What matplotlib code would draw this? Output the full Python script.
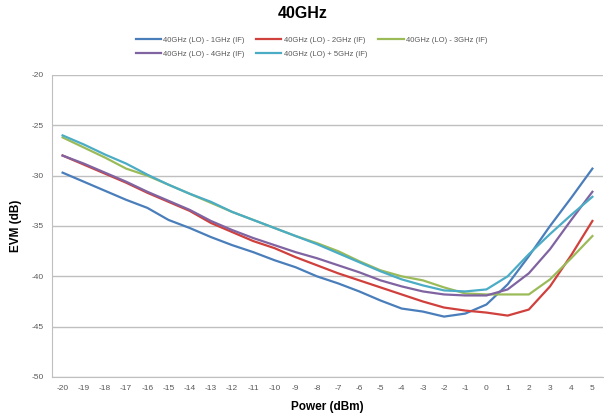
import matplotlib
matplotlib.use("Agg")
import matplotlib.pyplot as plt

power = list(range(-20, 6))

evm_1ghz = [-29.7, -30.6, -31.5, -32.4, -33.2, -34.4, -35.2, -36.1, -36.9, -37.6,
            -38.4, -39.1, -40.0, -40.7, -41.5, -42.4, -43.2, -43.5, -44.0, -43.7,
            -42.8, -40.8, -38.0, -35.0, -32.2, -29.3]
evm_2ghz = [-28.0, -28.9, -29.8, -30.7, -31.7, -32.6, -33.5, -34.7, -35.6, -36.5,
            -37.2, -38.1, -38.9, -39.7, -40.4, -41.1, -41.8, -42.5, -43.1, -43.4,
            -43.6, -43.9, -43.3, -41.0, -37.9, -34.5]
evm_3ghz = [-26.2, -27.2, -28.2, -29.3, -30.0, -30.9, -31.8, -32.7, -33.6, -34.4,
            -35.2, -36.0, -36.7, -37.5, -38.5, -39.4, -40.0, -40.4, -41.1, -41.7,
            -41.8, -41.8, -41.8, -40.3, -38.2, -36.0]
evm_4ghz = [-28.0, -28.8, -29.7, -30.6, -31.6, -32.5, -33.4, -34.5, -35.4, -36.2,
            -36.9, -37.6, -38.2, -38.9, -39.6, -40.4, -41.0, -41.5, -41.8, -41.9,
            -41.9, -41.3, -39.7, -37.3, -34.4, -31.6]
evm_5ghz = [-26.0, -26.9, -27.9, -28.8, -29.9, -30.9, -31.8, -32.6, -33.6, -34.4,
            -35.2, -36.0, -36.8, -37.7, -38.6, -39.5, -40.3, -40.9, -41.4, -41.5,
            -41.3, -40.0, -37.8, -35.8, -33.9, -32.1]

labels = ["40GHz (LO) - 1GHz (IF)", "40GHz (LO) - 2GHz (IF)", "40GHz (LO) - 3GHz (IF)",
          "40GHz (LO) - 4GHz (IF)", "40GHz (LO) + 5GHz (IF)"]
colors = ["#4A7EBB", "#D0403C", "#9BBB59", "#8064A2", "#4BACC6"]
series = [evm_1ghz, evm_2ghz, evm_3ghz, evm_4ghz, evm_5ghz]

yticks = [-50, -45, -40, -35, -30, -25, -20]

plt.rcParams['font.family'] = ['Liberation Sans', 'DejaVu Sans']
plt.rcParams['axes.unicode_minus'] = False

fig = plt.figure(figsize=(6.06, 4.18), dpi=100)
ax = fig.add_axes([52/606, 1-377/418, (603-52)/606, (377-75)/418])

handles = []
for s, c, l in zip(series, colors, labels):
    h, = ax.plot(power, s, color=c, lw=1.6, label=l, solid_joinstyle='round')
    handles.append(h)

ax.set_xlim(-20.5, 5.5)
ax.set_ylim(-50, -20)
ax.set_xticks(power)
ax.set_xticklabels([str(p) for p in power])
ax.set_yticks(yticks)
ax.grid(axis='y', color='#BFBFBF', lw=1)
ax.set_axisbelow(True)
for sp in ['top', 'right']:
    ax.spines[sp].set_visible(False)
for sp in ['left', 'bottom']:
    ax.spines[sp].set_color('#BFBFBF')
ax.tick_params(length=0, labelsize=6, colors='#595959', pad=6)

ax.set_xlabel("Power (dBm)", fontsize=8.5, fontweight='bold', labelpad=6)
ax.set_ylabel("EVM (dB)", fontsize=8.5, fontweight='bold', labelpad=7)

fig.text(0.5, 1-13/418, "40GHz", ha='center', va='center', fontsize=11.5, fontweight='bold')

order = [0, 3, 1, 4, 2]
leg = fig.legend([handles[i] for i in order], [labels[i] for i in order],
                 ncol=3, loc='center', bbox_to_anchor=(0.514, 1-47/418),
                 frameon=False, fontsize=5.5, handlelength=3.3, columnspacing=1.5,
                 handletextpad=0.3, labelspacing=0.9)
for t in leg.get_texts():
    t.set_color('#595959')

fig.savefig("out.png", dpi=100)
